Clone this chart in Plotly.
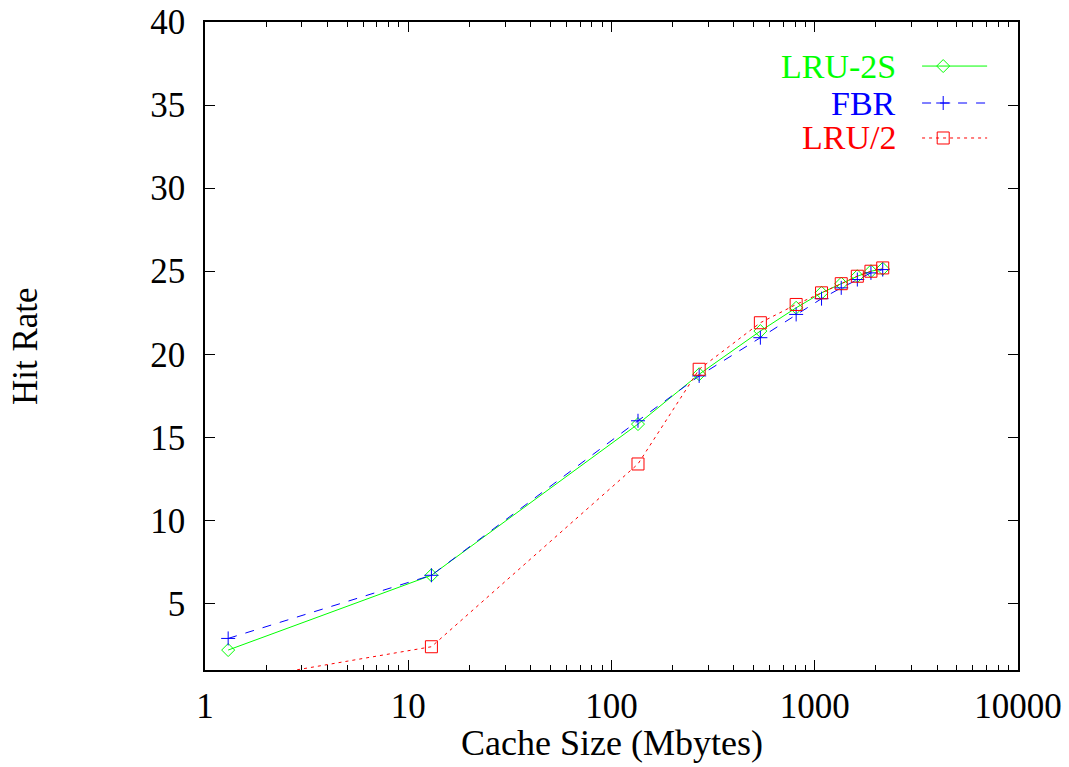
import plotly.graph_objects as go

# ---- data ----
cache_mb = [1.3, 13, 135, 270, 540, 810, 1080, 1350, 1620, 1890, 2160]
lru2s = [2.2, 6.7, 15.8, 18.8, 21.4, 22.8, 23.7, 24.25, 24.7, 25.0, 25.15]
fbr = [2.9, 6.7, 16.0, 18.7, 21.0, 22.4, 23.35, 24.0, 24.5, 24.9, 25.1]
lru_2 = [0.3, 2.4, 13.4, 19.1, 21.9, 23.0, 23.7, 24.25, 24.7, 25.0, 25.2]

x_tickvals = [1, 10, 100, 1000, 10000]
x_ticktext = ["1", "10", "100", "1000", "10000"]
y_tickvals = [5, 10, 15, 20, 25, 30, 35, 40]

GREEN = "#00ff00"
BLUE = "#0000ff"
RED = "#ff0000"
FONT = "Liberation Serif"
FS = 35

series = [
    ("LRU-2S", lru2s, GREEN, "solid", "diamond-open", 10),
    ("FBR", fbr, BLUE, "dash", "cross-thin-open", 10),
    ("LRU/2", lru_2, RED, "3px,4px", "square-open", 12),
]

fig = go.Figure()
for name, vals, col, dash, sym, ms in series:
    fig.add_trace(go.Scatter(
        x=cache_mb, y=vals, mode="lines+markers", name=name,
        line=dict(color=col, width=1, dash=dash),
        marker=dict(symbol=sym, size=ms, color=col, line=dict(color=col, width=1)),
        showlegend=False,
    ))

# custom gnuplot-style key (text left, sample right), drawn on hidden overlay axes
key_y = [0.932, 0.875, 0.821]
for (name, vals, col, dash, sym, ms), ky in zip(series, key_y):
    fig.add_trace(go.Scatter(
        x=[0.882, 0.962], y=[ky, ky], mode="lines", xaxis="x2", yaxis="y2",
        line=dict(color=col, width=1, dash=dash), showlegend=False, hoverinfo="skip"))
    fig.add_trace(go.Scatter(
        x=[0.908], y=[ky], mode="markers", xaxis="x2", yaxis="y2",
        marker=dict(symbol=sym, size=ms, color=col, line=dict(color=col, width=1)),
        showlegend=False, hoverinfo="skip"))
    fig.add_annotation(xref="paper", yref="paper", x=0.852, y=ky, text=name,
                       showarrow=False, xanchor="right", yanchor="middle",
                       font=dict(family=FONT, size=34, color=col))

axis_common = dict(showline=True, linecolor="black", linewidth=1.5, mirror="ticks",
                   ticks="inside", tickcolor="black", showgrid=False, zeroline=False,
                   automargin=False,
                   tickfont=dict(family=FONT, size=FS, color="black"))

fig.update_layout(
    width=1069, height=767,
    margin=dict(l=205, r=51, t=22, b=97),
    paper_bgcolor="white", plot_bgcolor="white",
    xaxis=dict(type="log", range=[0, 4], tickvals=x_tickvals, ticktext=x_ticktext,
               ticklen=10, ticklabelstandoff=4,
               minor=dict(ticks="inside", ticklen=5, dtick="D1", tickcolor="black", showgrid=False),
               **axis_common),
    yaxis=dict(range=[1, 40], tickvals=y_tickvals, ticklen=10, ticklabelstandoff=11,
               **axis_common),
    xaxis2=dict(overlaying="x", range=[0, 1], visible=False, fixedrange=True),
    yaxis2=dict(overlaying="y", range=[0, 1], visible=False, fixedrange=True),
    showlegend=False,
)

fig.add_annotation(xref="paper", yref="paper", x=0.501, y=-0.1127, text="Cache Size (Mbytes)",
                   showarrow=False, xanchor="center", yanchor="middle",
                   font=dict(family=FONT, size=36, color="black"))
fig.add_annotation(xref="paper", yref="paper", x=-0.2214, y=0.5, text="Hit Rate",
                   textangle=-90, showarrow=False, xanchor="center", yanchor="middle",
                   font=dict(family=FONT, size=FS, color="black"))

fig.write_html("out.html", config={"displayModeBar": False},
               post_script="document.body.style.margin='0';document.body.style.overflow='hidden';")
